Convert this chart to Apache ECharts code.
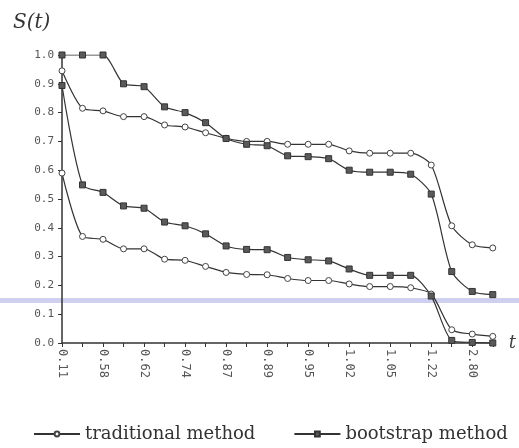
<!DOCTYPE html>
<html>
<head>
<meta charset="utf-8">
<title>S(t)</title>
<script src="https://cdn.jsdelivr.net/npm/echarts@6/dist/echarts.min.js"></script>
<style>
  html, body { margin: 0; padding: 0; background: #fff; }
  #chart { width: 519px; height: 448px; }
</style>
</head>
<body>
<div id="chart"></div>
<script>
// tick labels shown on every other point
var tickLabels = ['0.11', '0.58', '0.62', '0.74', '0.87', '0.89', '0.95', '1.02', '1.05', '1.22', '2.80'];
var yTicks = [0, 0.1, 0.2, 0.3, 0.4, 0.5, 0.6, 0.7, 0.8, 0.9, 1.0];

// traditional method (circles), upper and lower curves
var tradUpper = [0.945, 0.815, 0.806, 0.786, 0.786, 0.757, 0.75, 0.73, 0.711, 0.70, 0.70,
                 0.69, 0.69, 0.69, 0.667, 0.659, 0.659, 0.659, 0.618, 0.407, 0.341, 0.33];
var tradLower = [0.59, 0.37, 0.36, 0.327, 0.327, 0.291, 0.287, 0.266, 0.245, 0.238, 0.237,
                 0.224, 0.217, 0.217, 0.205, 0.196, 0.196, 0.192, 0.17, 0.046, 0.031, 0.023];
// bootstrap method (squares), upper and lower curves
var bootUpper = [1.0, 1.0, 1.0, 0.90, 0.89, 0.82, 0.80, 0.765, 0.71, 0.69, 0.685,
                 0.65, 0.647, 0.64, 0.60, 0.593, 0.593, 0.586, 0.517, 0.248, 0.179, 0.168];
var bootLower = [0.894, 0.549, 0.523, 0.476, 0.468, 0.42, 0.407, 0.379, 0.337, 0.325, 0.324,
                 0.297, 0.289, 0.285, 0.257, 0.235, 0.235, 0.235, 0.163, 0.009, 0.002, 0.0];

var categories = tradUpper.map(function (v, i) { return String(i); });

var chart = echarts.init(document.getElementById('chart'));

function circleSeries(data) {
    return {
        name: 'traditional method',
        type: 'line',
        data: data,
        smooth: 0.25,
        symbol: 'circle',
        symbolSize: 6,
        showAllSymbol: true,
        lineStyle: { color: '#333', width: 1.2 },
        itemStyle: { color: '#fff', borderColor: '#444', borderWidth: 1 }
    };
}
function squareSeries(data) {
    return {
        name: 'bootstrap method',
        type: 'line',
        data: data,
        smooth: 0.25,
        symbol: 'rect',
        symbolSize: 6,
        showAllSymbol: true,
        lineStyle: { color: '#333', width: 1.2 },
        itemStyle: { color: '#5a5a5a', borderColor: '#333', borderWidth: 1 }
    };
}

var option = {
    backgroundColor: '#fff',
    animation: false,
    title: {
        text: 'S(t)',
        left: 8,
        top: 8,
        textStyle: { fontFamily: 'DejaVu Serif', fontStyle: 'italic', fontWeight: 'normal', fontSize: 20, color: '#333' }
    },
    graphic: [{
        type: 'rect',
        z: -10,
        shape: { x: 0, y: 298, width: 519, height: 5 },
        style: { fill: '#cfcff0' }
    }],
    legend: {
        top: 425,
        left: 33,
        width: 486,
        padding: 0,
        itemWidth: 46,
        itemHeight: 6,
        itemGap: 38,
        textStyle: { fontFamily: 'DejaVu Serif', fontSize: 18, color: '#333' },
        data: ['traditional method', 'bootstrap method']
    },
    grid: { left: 62, right: 24, top: 55, bottom: 105 },
    xAxis: {
        type: 'category',
        data: categories,
        boundaryGap: false,
        name: 't',
        nameGap: 16,
        nameTextStyle: { fontFamily: 'DejaVu Serif', fontStyle: 'italic', fontSize: 18, color: '#444', verticalAlign: 'middle' },
        axisLine: { lineStyle: { color: '#333', width: 1.5 } },
        axisTick: { interval: 0, length: 4, lineStyle: { color: '#333' } },
        axisLabel: {
            interval: 1,
            rotate: -90,
            margin: 6,
            fontFamily: 'DejaVu Sans Mono',
            fontSize: 12,
            color: '#555',
            formatter: function (v, i) { return tickLabels[i / 2] || ''; }
        },
        splitLine: { show: false }
    },
    yAxis: {
        type: 'value',
        min: 0,
        max: 1,
        interval: 0.1,
        axisLine: { show: true, lineStyle: { color: '#333', width: 1.5 } },
        axisTick: { show: true, length: 4, lineStyle: { color: '#333' } },
        axisLabel: {
            margin: 8,
            fontFamily: 'DejaVu Sans Mono',
            fontSize: 11,
            color: '#555',
            formatter: function (v) {
                var idx = Math.round(v * 10);
                return yTicks[idx].toFixed(1);
            }
        },
        splitLine: { show: false }
    },
    series: [
        circleSeries(tradUpper),
        circleSeries(tradLower),
        squareSeries(bootUpper),
        squareSeries(bootLower)
    ]
};

chart.setOption(option);
</script>
</body>
</html>
